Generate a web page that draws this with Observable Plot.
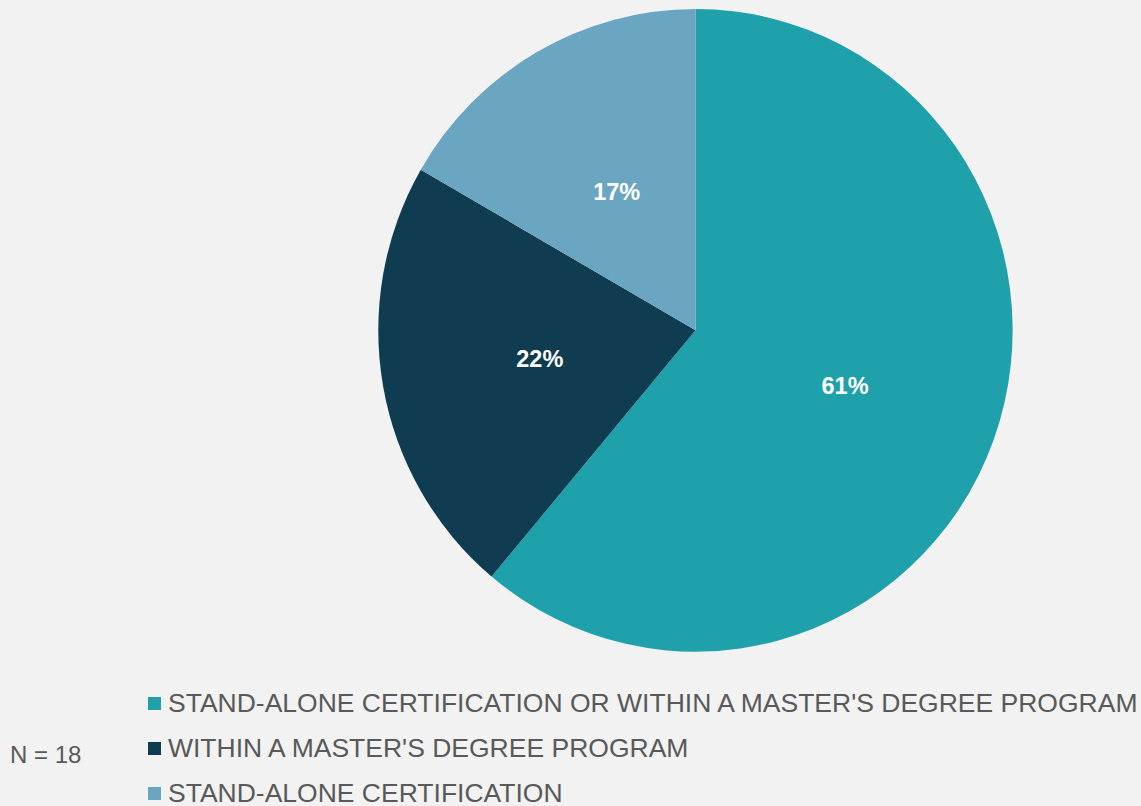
<!DOCTYPE html>
<html>
<head>
<meta charset="utf-8">
<script src="https://cdn.jsdelivr.net/npm/d3@7"></script>
<script src="https://cdn.jsdelivr.net/npm/@observablehq/plot@0.6"></script>
<style>
  html, body { margin: 0; padding: 0; background: #f2f2f2; }
  body { width: 1141px; height: 806px; position: relative; overflow: hidden; font-family: "Liberation Sans", Arial, sans-serif; }
  #chart svg { display: block; }
  #legend { position: absolute; left: 148px; top: 681px; }
  .row { display: flex; align-items: center; height: 45px; font-size: 26.5px; color: #595959; white-space: nowrap; }
  .sw { width: 13px; height: 13px; margin-right: 7px; flex: none; }
  #n { position: absolute; left: 10px; top: 742px; font-size: 24px; line-height: 26px; color: #595959; }
</style>
</head>
<body>
<div id="chart"></div>
<div id="n"></div>
<div id="legend"></div>
<script>
const categories = [
  "STAND-ALONE CERTIFICATION OR WITHIN A MASTER'S DEGREE PROGRAM",
  "WITHIN A MASTER'S DEGREE PROGRAM",
  "STAND-ALONE CERTIFICATION"
];
const counts = [11, 4, 3];
const colors = ["#1ea1aa", "#0f3c50", "#6aa6c2"];
const sampleLabel = "N = 18";

const total = d3.sum(counts);
const pie = d3.pie().sort(null).value(d => d.value);
const slices = pie(categories.map((c, i) => ({category: c, value: counts[i], color: colors[i]})));
const labels = slices.map(s => {
  const mid = (s.startAngle + s.endAngle) / 2;
  return {x: 0.5 * Math.sin(mid), y: 0.5 * Math.cos(mid), text: Math.round(s.data.value / total * 100) + "%"};
});

const arc = d3.arc().innerRadius(0).outerRadius(1);

function pieMark(index, scales) {
  const cx = scales.x(0), cy = scales.y(0);
  const rx = (scales.x(1) - scales.x(-1)) / 2;
  const ry = (scales.y(-1) - scales.y(1)) / 2;
  const g = d3.create("svg:g").attr("transform", `translate(${cx},${cy}) scale(${rx},${ry})`);
  g.selectAll("path").data(slices).join("path")
    .attr("d", arc)
    .attr("fill", d => d.data.color);
  return g.node();
}

const chart = Plot.plot({
  width: 1141,
  height: 680,
  margin: 0,
  style: {background: "#f2f2f2", overflow: "visible"},
  x: {domain: [-1, 1], range: [378.3, 1012.7], axis: null},
  y: {domain: [-1, 1], range: [651.7, 9], axis: null},
  marks: [
    pieMark,
    Plot.text(labels, {x: "x", y: "y", dy: 1, text: "text", fill: "white", fontSize: 23.5, fontWeight: "bold", fontFamily: "Liberation Sans, Arial, sans-serif"})
  ]
});
document.getElementById("chart").appendChild(chart);

document.getElementById("n").textContent = sampleLabel;
const legend = d3.select("#legend");
categories.forEach((c, i) => {
  const row = legend.append("div").attr("class", "row");
  row.append("div").attr("class", "sw").style("background", colors[i]);
  row.append("span").text(c);
});
</script>
</body>
</html>
